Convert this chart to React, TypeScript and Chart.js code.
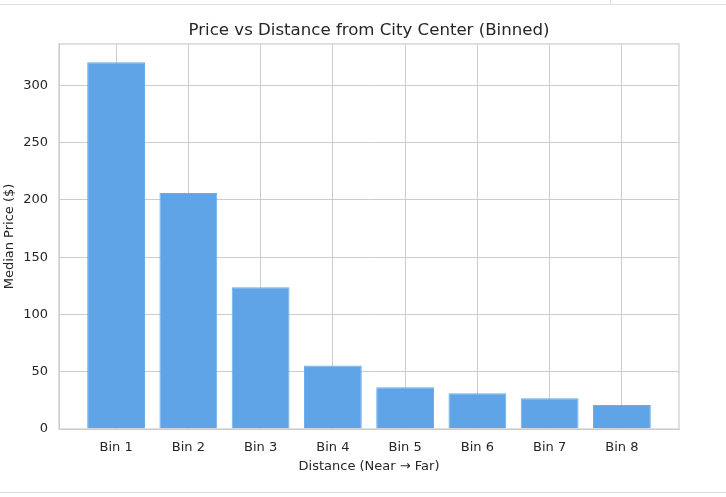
import React, { useEffect, useRef } from "react";
import { Chart, registerables } from "chart.js";

Chart.register(...registerables);

const categories = ["Bin 1", "Bin 2", "Bin 3", "Bin 4", "Bin 5", "Bin 6", "Bin 7", "Bin 8"];
const medianPrices = [320.3, 206.2, 123.8, 55.5, 36.4, 31.2, 26.8, 20.9];
const yTicks = [0, 50, 100, 150, 200, 250, 300];

const FONT = "'DejaVu Sans', sans-serif";
const TEXT = "#262626";
const GRID = "#cccccc";

const frame = {
  id: "frame",
  afterDatasetsDraw(chart: any) {
    const { ctx, chartArea } = chart;
    ctx.save();
    ctx.strokeStyle = GRID;
    ctx.lineWidth = 1.2;
    ctx.strokeRect(chartArea.left, chartArea.top, chartArea.right - chartArea.left, chartArea.bottom - chartArea.top);
    ctx.restore();
  },
};

export default function App() {
  const ref = useRef<HTMLCanvasElement | null>(null);
  useEffect(() => {
    if (!ref.current) return;
    const chart = new Chart(ref.current, {
      type: "bar",
      data: {
        datasets: [
          {
            label: "Median Price",
            data: medianPrices.map((v, i) => ({ x: i, y: v })),
            backgroundColor: "#5ea4e6",
            borderColor: "#6aaceb",
            borderWidth: 1,
            barPercentage: 0.8,
            categoryPercentage: 1,
          },
        ],
      },
      options: {
        animation: false,
        responsive: true,
        maintainAspectRatio: false,
        layout: { padding: { left: 0, right: 47, top: 0, bottom: 23 } },
        plugins: {
          legend: { display: false },
          tooltip: { enabled: false },
          title: {
            display: true,
            fullSize: false,
            text: "Price vs Distance from City Center (Binned)",
            color: TEXT,
            font: { family: FONT, size: 16.6, weight: "normal" },
            padding: { top: 21, bottom: 3 },
          },
        },
        scales: {
          x: {
            type: "linear",
            min: -0.79,
            max: 7.79,
            offset: false,
            ticks: {
              stepSize: 1,
              includeBounds: false,
              color: TEXT,
              font: { family: FONT, size: 13 },
              padding: 10.5,
              autoSkip: false,
              maxRotation: 0,
              callback: (v: any) => categories[v as number] ?? "",
            },
            grid: { color: GRID, drawTicks: false, lineWidth: 1, offset: false },
            border: { display: true, color: GRID },
            title: {
              display: true,
              text: "Distance (Near → Far)",
              color: TEXT,
              font: { family: FONT, size: 13 },
              padding: { top: 1, bottom: 0 },
            },
            afterFit: (s: any) => {
              s.height = 45;
            },
          },
          y: {
            type: "linear",
            min: 0,
            max: 336.3,
            afterBuildTicks: (s: any) => {
              s.ticks = yTicks.map((v) => ({ value: v }));
            },
            ticks: {
              color: TEXT,
              font: { family: FONT, size: 13 },
              padding: 11,
            },
            grid: { color: GRID, drawTicks: false, lineWidth: 1 },
            border: { display: true, color: GRID },
            title: {
              display: true,
              text: "Median Price ($)",
              color: TEXT,
              font: { family: FONT, size: 13 },
              padding: { top: 2, bottom: 1 },
            },
            afterFit: (s: any) => {
              s.width = 59;
            },
          },
        },
      },
      plugins: [frame],
    });
    return () => chart.destroy();
  }, []);

  return (
    <div style={{ position: "fixed", left: 0, top: 0, width: 726, height: 497, background: "#fff" }}>
      <div style={{ position: "absolute", left: 0, top: 4, width: 726, height: 1, background: "#e2e2e2" }} />
      <div style={{ position: "absolute", left: 610, top: 0, width: 1, height: 4, background: "#e2e2e2" }} />
      <div style={{ position: "absolute", left: 0, top: 492, width: 726, height: 1, background: "#d8d8d8" }} />
      <div style={{ position: "absolute", left: 0, top: 0, width: 726, height: 497 }}>
        <canvas ref={ref} />
      </div>
    </div>
  );
}
